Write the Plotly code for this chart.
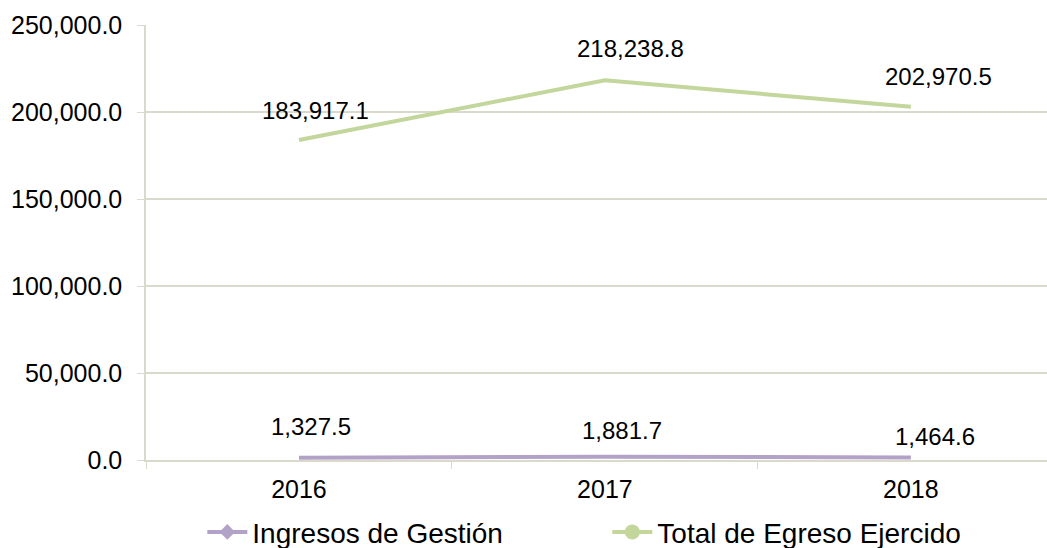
import plotly.graph_objects as go

years = ["2016", "2017", "2018"]
ingresos = [1327.5, 1881.7, 1464.6]
egresos = [183917.1, 218238.8, 202970.5]
series_names = ["Ingresos de Gestión", "Total de Egreso Ejercido"]
y_ticks = [0, 50000, 100000, 150000, 200000, 250000]

# label offsets (px) relative to each point
egr_dx, egr_dy = [17, 26, 28], [29, 32, 30]
ing_dx, ing_dy = [12, 17, 24], [31, 26, 21]

purple = "#b3a2c7"
green = "#c3d69b"
grid = "#d9d9cc"
font = "Liberation Sans, Arial, sans-serif"

fig = go.Figure()
fig.add_trace(go.Scatter(x=years, y=ingresos, mode="lines", line=dict(color=purple, width=4),
                         showlegend=False, name=series_names[0]))
fig.add_trace(go.Scatter(x=years, y=egresos, mode="lines", line=dict(color=green, width=4),
                         showlegend=False, name=series_names[1]))
fig.add_trace(go.Scatter(x=[None], y=[None], mode="lines+markers", name=series_names[0],
                         line=dict(color=purple, width=4),
                         marker=dict(symbol="diamond", size=12, color=purple)))
fig.add_trace(go.Scatter(x=[None], y=[None], mode="lines+markers", name=series_names[1],
                         line=dict(color=green, width=4),
                         marker=dict(symbol="circle", size=15, color=green)))

def fmt(v):
    return f"{v:,.1f}"

for i, y in enumerate(years):
    fig.add_annotation(x=i, y=egresos[i], text=fmt(egresos[i]), showarrow=False,
                       xshift=egr_dx[i], yshift=egr_dy[i],
                       font=dict(size=24, color="black", family=font))
    fig.add_annotation(x=i, y=ingresos[i], text=fmt(ingresos[i]), showarrow=False,
                       xshift=ing_dx[i], yshift=ing_dy[i],
                       font=dict(size=24, color="black", family=font))

fig.update_layout(
    width=1047, height=575,
    margin=dict(l=146, r=0, t=25, b=115),
    plot_bgcolor="white", paper_bgcolor="white",
    font=dict(family=font, size=23, color="black"),
    legend=dict(orientation="h", x=0.512, xanchor="center", y=-0.166, yanchor="middle",
                font=dict(size=28, color="black", family=font),
                entrywidth=350, entrywidthmode="pixels", itemwidth=40,
                bgcolor="rgba(0,0,0,0)"),
    xaxis=dict(type="category", range=[-0.5, 2.445], showgrid=False, automargin=False,
               tickson="boundaries", ticks="outside", ticklen=7, tickcolor=grid,
               ticklabelstandoff=6,
               showline=True, linecolor=grid, linewidth=1.5,
               tickfont=dict(size=25, color="black", family=font)),
    yaxis=dict(range=[0, 250000], tickvals=y_ticks, automargin=False,
               ticktext=[fmt(v) for v in y_ticks],
               showgrid=True, gridcolor=grid, gridwidth=1.5,
               ticks="outside", ticklen=7, tickcolor=grid, ticklabelstandoff=10,
               showline=True, linecolor=grid, linewidth=1.5, zeroline=False,
               tickfont=dict(size=25, color="black", family=font)),
)

fig.write_html("out.html", config={"displayModeBar": False},
               post_script="document.body.style.margin='0px';")
